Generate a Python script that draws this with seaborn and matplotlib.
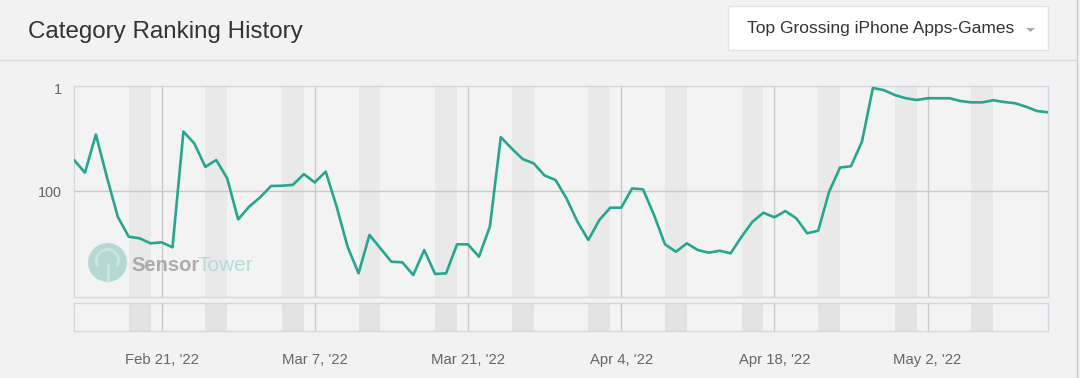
import numpy as np
import pandas as pd
import matplotlib
matplotlib.use("Agg")
import matplotlib.pyplot as plt
from matplotlib.patches import Rectangle, Ellipse, Arc, Polygon
from matplotlib.lines import Line2D
from matplotlib.ticker import NullLocator
import seaborn as sns

# data (daily rank, lower = better)
start_date = "2022-02-13"
ranks = [25, 44, 8, 53, 316, 771, 829, 1037, 991, 1240,
         7, 12, 34, 25, 57, 355, 202, 133, 80, 79,
         76, 47, 68, 42, 202, 1207, 3963, 715, 1297, 2360,
         2423, 4276, 1398, 4090, 3963, 1084, 1084, 1888, 493, 9,
         15, 24, 29, 50, 61, 139, 394, 894, 366, 211,
         211, 89, 93, 292, 1084, 1510, 1037, 1398, 1578, 1443,
         1622, 771, 394, 264, 324, 245, 339, 663, 590, 103,
         35, 33, 11, 1.0, 1.1, 1.37, 1.58, 1.71, 1.58, 1.58,
         1.58, 1.79, 1.90, 1.90, 1.73, 1.87, 1.98, 2.31, 2.80, 2.96]
tick_dates = ["2022-02-21", "2022-03-07", "2022-03-21", "2022-04-04", "2022-04-18", "2022-05-02"]
tick_labels = ["Feb 21, '22", "Mar 7, '22", "Mar 21, '22", "Apr 4, '22", "Apr 18, '22", "May 2, '22"]
y_ticks = [1, 100]
y_tick_labels = ["1", "100"]
first_weekend = "2022-02-18"
title = "Category Ranking History"
category = "Top Grossing iPhone Apps-Games"

BG = "#f2f2f2"
PLOT_BG = "#f3f3f3"
BAND = "#e9e9e9"
NAV_BAND = "#e3e3e3"
GRID = "#c9c9c9"
BORDER = "#cfd8e0"
LINE = "#26a690"
TXT = "#666666"

sns.set_theme(style="white")
plt.rcParams["font.family"] = ["Liberation Sans", "DejaVu Sans"]

df = pd.DataFrame({"date": pd.date_range(start_date, periods=len(ranks), freq="D"),
                   "rank": ranks})
ticks = pd.to_datetime(tick_dates)
weekends = pd.date_range(first_weekend, df["date"].iloc[-1], freq="7D")

W, H = 1080, 378
fig = plt.figure(figsize=(W / 100, H / 100), dpi=100, facecolor=BG)


def fbox(x0, y0, x1, y1):
    return [x0 / W, 1 - y1 / H, (x1 - x0) / W, (y1 - y0) / H]


ax = fig.add_axes(fbox(74, 86, 1048, 297))
nav = fig.add_axes(fbox(74, 303, 1048, 331))

for a, band in ((ax, BAND), (nav, NAV_BAND)):
    a.set_facecolor(PLOT_BG)
    for d in weekends:
        a.axvspan(d, d + pd.Timedelta(days=2), color=band, lw=0, zorder=0)
    for t in ticks:
        a.axvline(t, color=GRID, lw=1, zorder=1)
    for s in a.spines.values():
        s.set_color(BORDER)
        s.set_linewidth(1)
    a.set_xlim(df["date"].iloc[0], df["date"].iloc[-1])

sns.lineplot(data=df, x="date", y="rank", ax=ax, color=LINE, linewidth=1.9, zorder=3)
ax.set_yscale("log")
ax.set_ylim(10 ** 4.058, 10 ** -0.039)
ax.set_yticks(y_ticks)
ax.set_yticklabels(y_tick_labels)
ax.yaxis.set_minor_locator(NullLocator())
ax.axhline(100, color=GRID, lw=1, zorder=1)
ax.tick_params(axis="y", length=0, pad=8.6, labelsize=10.4, labelcolor=TXT)
ax.set_xticks([])
ax.set_xlabel("")
ax.set_ylabel("")

nav.set_yticks([])
nav.set_xticks(ticks)
nav.set_xticklabels(tick_labels)
nav.tick_params(axis="x", length=0, pad=16, labelsize=10.7, labelcolor=TXT)

# header
fig.text(28 / W, 1 - 38 / H, title, fontsize=17.4, color="#333333", va="baseline")
fig.add_artist(Line2D([0, 1077 / W], [1 - 60 / H] * 2, color="#dddddd", lw=1))
fig.add_artist(Line2D([1077 / W] * 2, [0, 1], color="#cccccc", lw=1))
fig.patches.append(Rectangle((728 / W, 1 - 50 / H), 320 / W, 44 / H, transform=fig.transFigure,
                             facecolor="white", edgecolor="#e3e3e3", lw=1))
fig.text(746.7 / W, 1 - 33.3 / H, category, fontsize=12.5, color="#333333", va="baseline")
fig.patches.append(Polygon([(1026 / W, 1 - 28 / H), (1035 / W, 1 - 28 / H), (1030.5 / W, 1 - 32 / H)],
                           closed=True, transform=fig.transFigure, facecolor="#aaaaaa", lw=0))

# watermark
cx, cy = 107.5, 262.5
fig.patches.append(Ellipse((cx / W, 1 - cy / H), 39 / W, 39 / H, transform=fig.transFigure,
                           facecolor="#8cc8bd", alpha=0.6, lw=0, zorder=4))
fig.patches.append(Arc((cx / W, 1 - (cy - 2) / H), 22 / W, 22 / H, theta1=-60, theta2=240,
                       transform=fig.transFigure, color="#dcefeb", alpha=0.5, lw=2.2, zorder=5))
fig.add_artist(Line2D([cx / W] * 2, [1 - (cy + 2) / H, 1 - (cy + 19) / H], color="#dcefeb",
                      alpha=0.5, lw=2.2, zorder=5))
fig.text(131 / W, 1 - 271 / H, "Sensor", fontsize=14.5, fontweight="bold", color="#9a9a9a",
         alpha=0.8, va="baseline", zorder=5)
fig.text(197 / W, 1 - 271 / H, "Tower", fontsize=15, color="#a6d8cf", alpha=0.8,
         va="baseline", zorder=5)

fig.savefig("out.png", dpi=100, facecolor=BG)
